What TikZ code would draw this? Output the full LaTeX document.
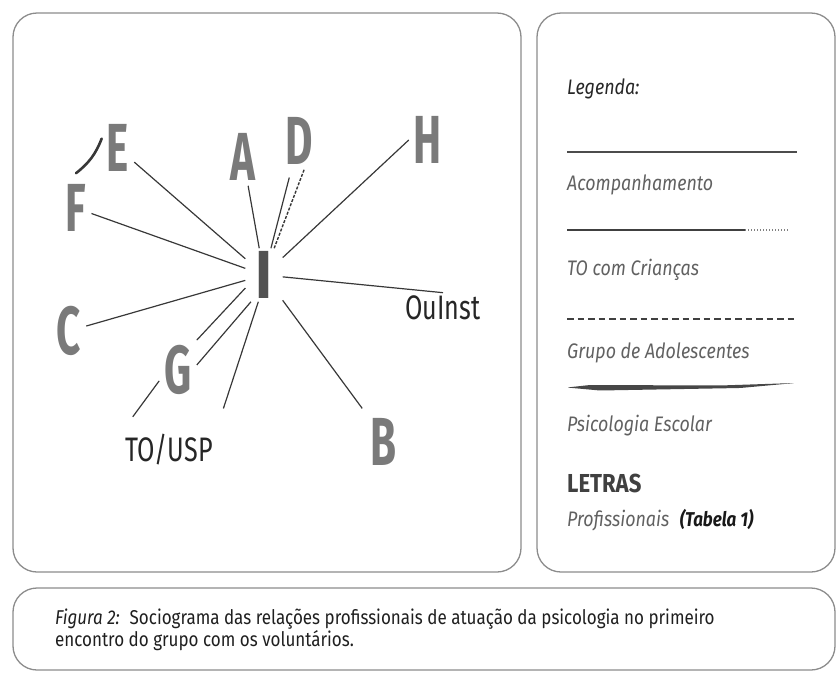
\documentclass[tikz,border=0pt]{standalone}
\usepackage{fontspec}
\setmainfont{Fira Sans}[FakeStretch=0.85]
\newfontfamily\letterfont{Fira Sans}[FakeStretch=0.62]
\newfontfamily\placefont{Fira Sans}[FakeStretch=0.74]
\usetikzlibrary{positioning}
\definecolor{lettergray}{gray}{0.48}
\definecolor{linegray}{gray}{0.22}
\definecolor{framegray}{gray}{0.55}
\definecolor{legendgray}{gray}{0.38}

\begin{document}
\begin{tikzpicture}[x=1pt, y=-1pt,
    frame/.style={draw=framegray, line width=1.3pt, rounded corners=24pt},
    letter/.style={font=\letterfont\bfseries\fontsize{68}{68}\selectfont, text=lettergray, inner sep=5pt},
    place/.style={font=\placefont\fontsize{34}{34}\selectfont, text=black!85, inner sep=3pt},
    tie/.style={draw=linegray, line width=1.2pt},
    teen/.style={draw=linegray, line width=1.4pt, dash pattern=on 3pt off 1.5pt},
    school/.style={draw=linegray, line width=2.6pt, line cap=round},
    legtext/.style={anchor=base west, inner sep=0pt, font=\itshape\fontsize{21}{21}\selectfont, text=legendgray}]
  \useasboundingbox (0,0) rectangle (839,673);
  \draw[frame] (13,13) rectangle (521,572);
  \draw[frame] (537,13) rectangle (835,572);
  \draw[frame] (13,588) rectangle (835,670);

  \node[letter] (E) at (118,148) {E};
  \node[letter] (F) at (76,208) {F};
  \node[letter] (A) at (243,157) {A};
  \node[letter] (D) at (299,141) {D};
  \node[letter] (H) at (428,140) {H};
  \node[letter] (C) at (69,331) {C};
  \node[letter] (G) at (178,370) {G};
  \node[letter] (B) at (384,442) {B};
  \node[font=\bfseries\fontsize{68}{68}\selectfont, text=black!68, inner xsep=10pt, inner ysep=3pt] (I) at (264,275) {I};
  \node[place] (OuInst) at (443,308) {OuInst};
  \node[place] (TOUSP) at (169,450) {TO/USP};

  \path[tie]
  (I) edge (E)
  (I) edge (F)
  (I) edge (A)
  (I) edge[shorten >=8pt] (D.255)
  (I) edge (H.west)
  (I) edge (OuInst.north)
  (I) edge (C)
  (I) edge[shorten >=6pt] (B.north west)
  (I.215) edge (G.north east)
  (I.244) edge (G.15)
  (I.258) edge[shorten >=24pt] (TOUSP.north east)
  (G.210) edge[shorten >=18pt] (TOUSP.north west);
  \path[teen] (I) edge (D.280);
  \draw[school] (E.150) to[bend left=15] ([yshift=6pt]F.north);

  \node[legtext, text=black!85] (leg) at (567,94) {Legenda:};
  \draw[draw=black!70, line width=2pt] (567,152) -- (797,152);
  \node[legtext] (acomp) at (567,190) {Acompanhamento};
  \draw[draw=black!75, line width=1.6pt] (567,230) -- (745,230);
  \draw[draw=gray, line width=1.2pt, dash pattern=on 1pt off 2pt] (745,230) -- (788,230);
  \node[legtext] (crian) at (567,275) {TO com Crianças};
  \draw[draw=black!75, line width=2pt, dash pattern=on 6.5pt off 4pt] (567,319) -- (797,319);
  \node[legtext] (adol) at (567,358) {Grupo de Adolescentes};
  \fill[black!72, rounded corners=2pt] (567,387.5) -- (590,385) -- (720,385.5) -- (795,383) -- (740,388) -- (600,390.5) -- cycle;
  \node[legtext] (escolar) at (567,431) {Psicologia Escolar};
  \node[legtext, font=\bfseries\fontsize{26}{26}\selectfont, text=black!75] (letras) at (567,492) {LETRAS};
  \node[legtext] (prof) at (567,526) {Profissionais\enspace{\bfseries\fontsize{20}{20}\selectfont\color{black!90}(Tabela 1)}};

  \node[anchor=west, align=left, inner sep=0pt, font=\fontsize{20}{22}\selectfont, text=black!88] (cap) at (55,630)
    {\textit{Figura 2:}\enspace Sociograma das relações profissionais de atuação da psicologia no primeiro\\encontro do grupo com os voluntários.};
\end{tikzpicture}
\end{document}
